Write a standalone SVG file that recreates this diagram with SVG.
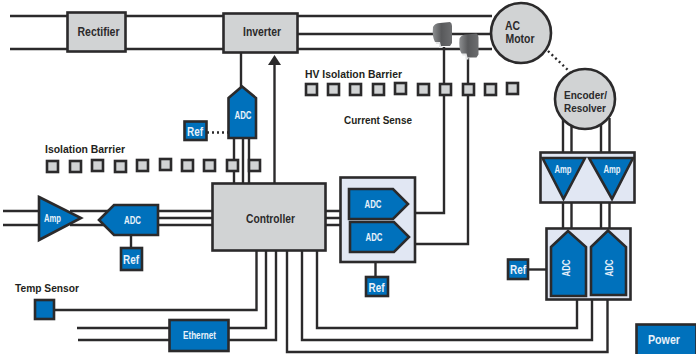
<svg xmlns="http://www.w3.org/2000/svg" width="696" height="354" viewBox="0 0 696 354">
<style>
.l{fill:none;stroke:#2b2a2b;stroke-width:2.4}
.d{fill:none;stroke:#2b2a2b;stroke-width:2.4;stroke-dasharray:2 3}
.g{fill:#d1d3d4;stroke:#2b2a2b;stroke-width:2.6}
.b{fill:#0071bc;stroke:#2b2a2b;stroke-width:2.6;stroke-linejoin:miter}
.p{fill:#e1e7f3;stroke:#2b2a2b;stroke-width:2.6}
.s{fill:#d1d3d4;stroke:#2b2a2b;stroke-width:2.6}
text{font-family:"Liberation Sans",sans-serif;font-weight:700;text-anchor:middle}
.k{fill:#2b2a2b;font-size:12.500px}
.m{fill:#2b2a2b;font-size:11.500px}
.w{fill:#e8f1fa;font-size:10.500px}
.r{fill:#e8f1fa;font-size:13px}
.t{fill:#1f1f20;font-size:11.500px;text-anchor:start}
</style>
<defs>
<linearGradient id="cs" x1="0" x2="1" y1="0" y2="0"><stop offset="0" stop-color="#8d8f91"/><stop offset="0.45" stop-color="#58595b"/><stop offset="1" stop-color="#6d6e70"/></linearGradient>
<g id="sensor">
<path d="M3 17H10V26H7V22H4Z" fill="#e4e5e6"/>
<path d="M1 5Q3 1 8 1L18 0Q20 1 20 4V21L18 24H9L8 20H3Q0 15 1 5Z" fill="url(#cs)"/>
</g>
</defs>
<g id="connectors">
<path class="l" d="M10 16H492M10 49H492M297 34H492"/>
<path class="l" d="M241 53V87"/>
<path class="d" d="M207 132.500H228"/>
<path class="l" d="M234 138V183M243 138V183M249 138V183"/>
<path class="l" d="M274.500 183V64"/>
<path d="M268 65L274.500 55L281 65Z" fill="#2b2a2b"/>
<path class="l" d="M3 211H38M3 225H38M70 211H110M70 225H110M158 211H212M158 218H212M158 225H212"/>
<path class="l" d="M131 235V248"/>
<path class="l" d="M54 310H256.500V251M77 328H266V251M78 340H276V251"/>
<path class="l" d="M287 251V352H607.500V299M302 251V340H592V299M317 251V328H577V299"/>
<path class="l" d="M326 211H340M326 218H340M326 225H340"/>
<path class="l" d="M415 213H444V47M415 244H468V58"/>
<path class="l" d="M375.500 262V277"/>
<path class="d" d="M548 51L570 72"/>
<path class="l" d="M563 118V152M571.500 118V152M601 118V152M609.500 118V152M563 203V231M571.500 203V231M601 203V231M609.500 203V231"/>
<path class="l" d="M528 269.500H546"/>
</g>
<g id="rectifier"><rect class="g" x="67.500" y="12.500" width="58" height="39"/><text class="k" x="98.500" y="36" textLength="42" lengthAdjust="spacingAndGlyphs">Rectifier</text></g>
<g id="inverter"><rect class="g" x="223.500" y="13.500" width="74" height="39"/><text class="k" x="262" y="36" textLength="38" lengthAdjust="spacingAndGlyphs">Inverter</text></g>
<g id="ac-motor"><circle class="g" cx="521" cy="33" r="30"/><text class="k" x="512.500" y="30" textLength="15" lengthAdjust="spacingAndGlyphs">AC</text><text class="k" x="520" y="43" textLength="29" lengthAdjust="spacingAndGlyphs">Motor</text></g>
<g id="encoder"><circle class="g" cx="585" cy="99" r="30"/><text class="m" x="585.500" y="99" textLength="43" lengthAdjust="spacingAndGlyphs">Encoder/</text><text class="m" x="585" y="111.500" textLength="42" lengthAdjust="spacingAndGlyphs">Resolver</text></g>
<g id="current-sensor-1"><use href="#sensor" x="432" y="22"/></g>
<g id="current-sensor-2"><use href="#sensor" x="458.500" y="33.500"/></g>
<g id="hv-barrier-label"><text class="t" x="305" y="78" textLength="97" lengthAdjust="spacingAndGlyphs">HV Isolation Barrier</text></g>
<g id="hv-barrier">
<rect class="s" x="306" y="84" width="11" height="11"/><rect class="s" x="328" y="84" width="11" height="11"/><rect class="s" x="350" y="84" width="11" height="11"/><rect class="s" x="373" y="84" width="11" height="11"/><rect class="s" x="395" y="83" width="11" height="11"/><rect class="s" x="418" y="84" width="11" height="11"/><rect class="s" x="440" y="84" width="11" height="11"/><rect class="s" x="463" y="84" width="11" height="11"/><rect class="s" x="485" y="84" width="11" height="11"/><rect class="s" x="507" y="83" width="11" height="11"/>
</g>
<g id="current-sense-label"><text class="t" x="344" y="124" textLength="68" lengthAdjust="spacingAndGlyphs">Current Sense</text></g>
<g id="isolation-barrier-label"><text class="t" x="45" y="153" textLength="80" lengthAdjust="spacingAndGlyphs">Isolation Barrier</text></g>
<g id="isolation-barrier">
<rect class="s" x="47" y="161" width="11" height="11"/><rect class="s" x="70" y="161" width="11" height="11"/><rect class="s" x="92" y="160" width="11" height="11"/><rect class="s" x="115" y="161" width="11" height="11"/><rect class="s" x="137" y="160" width="11" height="11"/><rect class="s" x="160" y="159" width="11" height="11"/><rect class="s" x="182" y="160" width="11" height="11"/><rect class="s" x="204" y="160" width="11" height="11"/><rect class="s" x="227" y="160" width="11" height="11"/><rect class="s" x="249" y="160" width="11" height="11"/>
</g>
<g id="adc-inverter"><path class="b" d="M228.500 98L242 86.500L256 98V138H228.500Z"/><text class="w" x="243" y="119" textLength="17" lengthAdjust="spacingAndGlyphs">ADC</text></g>
<g id="ref-inverter"><rect class="b" x="184.500" y="121.500" width="22" height="18.500"/><text class="r" x="195" y="135.500" textLength="16" lengthAdjust="spacingAndGlyphs">Ref</text></g>
<g id="controller"><rect class="g" x="212.500" y="183.500" width="113" height="67"/><text class="k" x="270.500" y="223" textLength="49" lengthAdjust="spacingAndGlyphs">Controller</text></g>
<g id="amp-input"><path class="b" d="M39 197L81 218L39 240Z"/><text class="w" x="52.500" y="222" textLength="17" lengthAdjust="spacingAndGlyphs">Amp</text></g>
<g id="adc-input"><path class="b" d="M99 220L114 205H158V235H114Z"/><text class="w" x="132.500" y="224" textLength="17" lengthAdjust="spacingAndGlyphs">ADC</text></g>
<g id="ref-input"><rect class="b" x="121" y="248" width="21" height="22"/><text class="r" x="131" y="264" textLength="16" lengthAdjust="spacingAndGlyphs">Ref</text></g>
<g id="temp-sensor-label"><text class="t" x="15" y="292" textLength="64" lengthAdjust="spacingAndGlyphs">Temp Sensor</text></g>
<g id="temp-sensor"><rect class="b" x="35" y="300" width="19" height="19"/></g>
<g id="ethernet"><rect class="b" x="169.500" y="320" width="59" height="31"/><text class="w" x="199.500" y="339" textLength="33" lengthAdjust="spacingAndGlyphs">Ethernet</text></g>
<g id="adc-panel">
<rect class="p" x="340.500" y="177.500" width="74.500" height="84.500"/>
<path class="b" d="M349 189H393L408 204L393 219H349Z"/><text class="w" x="373" y="208" textLength="17" lengthAdjust="spacingAndGlyphs">ADC</text>
<path class="b" d="M350 222H394L409 237L394 252H350Z"/><text class="w" x="374" y="241" textLength="17" lengthAdjust="spacingAndGlyphs">ADC</text>
</g>
<g id="ref-panel"><rect class="b" x="366" y="277" width="22" height="19"/><text class="r" x="376.500" y="291.500" textLength="16" lengthAdjust="spacingAndGlyphs">Ref</text></g>
<g id="amp-panel">
<rect class="p" x="540.500" y="152.500" width="94" height="50"/>
<path class="b" d="M542.500 158H585L563.500 199Z"/><text class="w" x="563" y="173" textLength="17" lengthAdjust="spacingAndGlyphs">Amp</text>
<path class="b" d="M589 158H633L612 199Z"/><text class="w" x="612" y="173" textLength="17" lengthAdjust="spacingAndGlyphs">Amp</text>
</g>
<g id="adc-encoder-panel">
<rect class="p" x="546.500" y="228.500" width="84" height="71"/>
<path class="b" d="M551 247L568 231L586 247V296H551Z"/><text class="w" transform="translate(569.500 268) rotate(-90)" textLength="17" lengthAdjust="spacingAndGlyphs">ADC</text>
<path class="b" d="M591 247L608 230.500L626 247V295H591Z"/><text class="w" transform="translate(613 268) rotate(-90)" textLength="17" lengthAdjust="spacingAndGlyphs">ADC</text>
</g>
<g id="ref-encoder"><rect class="b" x="508" y="259.500" width="20" height="19.500"/><text class="r" x="518" y="274" textLength="16" lengthAdjust="spacingAndGlyphs">Ref</text></g>
<g id="power"><rect class="b" x="636.500" y="324.500" width="60" height="31"/><text class="k" x="664" y="344" textLength="32" lengthAdjust="spacingAndGlyphs" style="fill:#e8f1fa;font-size:13px">Power</text></g>
</svg>
